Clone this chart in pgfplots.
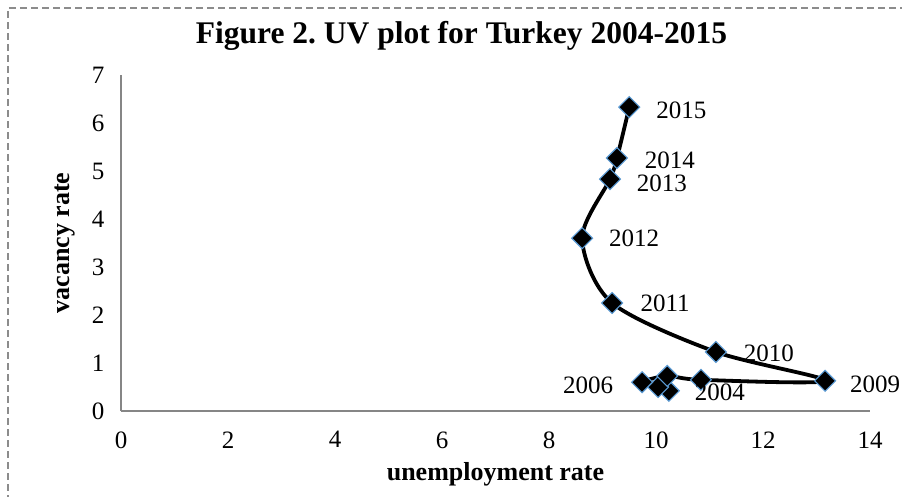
\documentclass[border=0pt]{standalone}
\usepackage{pgfplots}
\pgfplotsset{compat=1.18}
\usepackage{pgfplotstable}
\usepackage{fontspec}
\setmainfont{Liberation Serif}
\frenchspacing
\definecolor{mkblue}{HTML}{5B9BD5}
\definecolor{axgray}{HTML}{868686}
\definecolor{frame}{HTML}{8C8C8C}

\pgfplotstableread{
x      y     yr
10.24  0.42  2004
10.04  0.50  2005
9.74   0.60  2006
10.21  0.73  2007
10.84  0.65  2008
13.16  0.63  2009
11.12  1.23  2010
9.18   2.25  2011
8.62   3.60  2012
9.14   4.83  2013
9.27   5.27  2014
9.50   6.33  2015
}\uvdata

\pgfplotstableread{
x      y     dx   dy   lab
10.24  0.42  51   1    2004
9.74   0.60  -54  3    2006
13.16  0.63  50   4    2009
11.12  1.23  53   1    2010
9.18   2.25  53   0    2011
8.62   3.60  52   0    2012
9.14   4.83  52   4    2013
9.27   5.27  53   2    2014
9.50   6.33  52   3    2015
}\uvlabels

\begin{document}
\begin{tikzpicture}
\path[use as bounding box] (0,0) rectangle (902bp,497bp);
\draw[frame, line width=1.3bp, dash pattern=on 7bp off 4bp] (8bp,-5bp) -- (8bp,489bp) -- (910bp,489bp);
\begin{axis}[
  at={(121bp,86bp)}, anchor=south west,
  scale only axis, width=749bp, height=336bp,
  xmin=0, xmax=14, ymin=0, ymax=7,
  xtick={0,2,...,14}, ytick={0,1,...,7},
  axis x line=bottom, axis y line=left,
  axis line style={axgray, line width=1.2bp, -},
  major tick length=0pt,
  /pgf/number format/assume math mode=true,
  tick label style={font=\fontsize{25bp}{29bp}\selectfont},
  xticklabel style={yshift=-17bp},
  yticklabel style={xshift=-13bp},
  title={Figure 2. UV plot for Turkey 2004-2015},
  title style={font=\bfseries\fontsize{31.5bp}{36bp}\selectfont, at={(axis description cs:0.4546,1.100)}, anchor=center},
  xlabel={unemployment rate},
  ylabel={vacancy rate},
  label style={font=\bfseries\fontsize{26bp}{30bp}\selectfont},
  xlabel style={at={(axis description cs:0.5,-0.1875)}, anchor=center},
  ylabel style={at={(axis description cs:-0.0748,0.5)}, anchor=center},
  clip=false,
]
\addplot[black, line width=3.8bp, smooth, tension=0.5,
  mark=square*, mark size=7.4bp,
  mark options={rotate=45, fill=black, draw=mkblue, line width=1.1bp}]
  table[x=x, y=y] {\uvdata};
\addplot[draw=none, mark=none,
  point meta=explicit symbolic,
  visualization depends on={\thisrow{dx} \as \dx},
  visualization depends on={\thisrow{dy} \as \dy},
  nodes near coords,
  every node near coord/.style={anchor=center, xshift=\dx bp, yshift=-\dy bp, font=\fontsize{25bp}{30bp}\selectfont, text=black, inner sep=0pt}]
  table[x=x, y=y, meta=lab] {\uvlabels};
\end{axis}
\end{tikzpicture}
\end{document}
